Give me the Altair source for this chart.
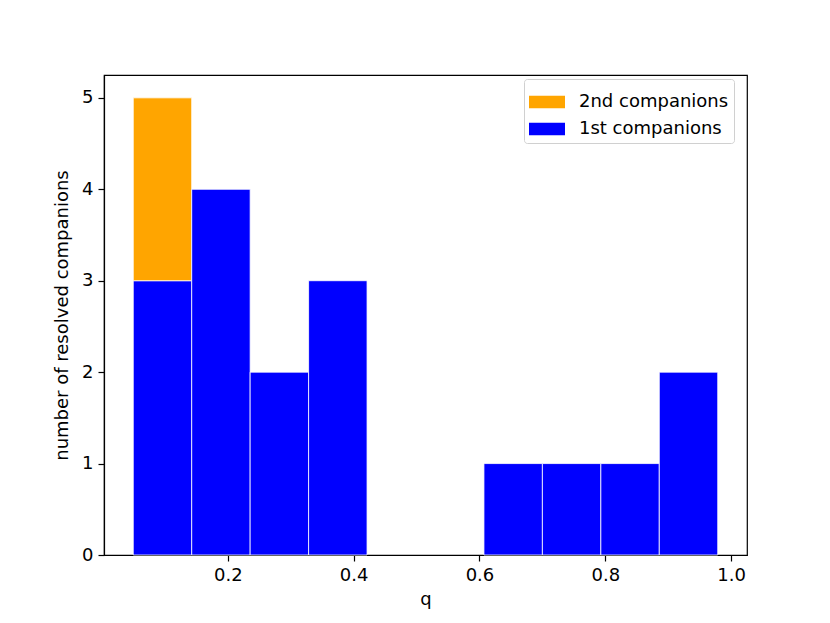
import altair as alt
import pandas as pd

# bin edges of the q histogram
bin_edges = [0.0497, 0.1426, 0.2355, 0.3284, 0.4213, 0.5142, 0.6071, 0.7000, 0.7929, 0.8858, 0.9787]
first_counts = [3, 4, 2, 3, 0, 0, 1, 1, 1, 2]
second_counts = [2, 0, 0, 0, 0, 0, 0, 0, 0, 0]
series_names = ["2nd companions", "1st companions"]
series_colors = ["#ffa500", "#0000ff"]
x_ticks = [0.2, 0.4, 0.6, 0.8, 1.0]
y_ticks = [0, 1, 2, 3, 4, 5]

rows = []
for i in range(len(first_counts)):
    for name, counts, order in [("1st companions", first_counts, 0), ("2nd companions", second_counts, 1)]:
        if counts[i] > 0:
            rows.append({"lo": bin_edges[i], "hi": bin_edges[i + 1], "count": counts[i],
                         "series": name, "ord": order})
df = pd.DataFrame(rows)

FONT = "DejaVu Sans"
FS = 18

chart = alt.Chart(df).transform_stack(
    stack="count", as_=["y0", "y1"], groupby=["lo"], sort=[alt.SortField("ord", order="ascending")]
).mark_rect(stroke="white", strokeWidth=0.8).encode(
    x=alt.X("lo:Q", scale=alt.Scale(domain=[0.0032, 1.0252], nice=False, zero=False),
            axis=alt.Axis(values=x_ticks, format=".1f", title="q", grid=False)),
    x2="hi:Q",
    y=alt.Y("y1:Q", scale=alt.Scale(domain=[0, 5.25], nice=False),
            axis=alt.Axis(values=y_ticks, format="d", title="number of resolved companions", grid=False)),
    y2="y0:Q",
    color=alt.Color("series:N", scale=alt.Scale(domain=series_names, range=series_colors),
                    legend=alt.Legend(title=None, orient="none", legendX=420, legendY=4,
                                      symbolType="M-1,-0.35H1V0.35H-1Z", symbolSize=1296,
                                      symbolStrokeWidth=0, labelFont=FONT, labelFontSize=FS,
                                      labelColor="black", labelOffset=14,
                                      strokeColor="#d0d0d0", fillColor="white", cornerRadius=3,
                                      padding=5, rowPadding=-1)),
).properties(
    width=643, height=480,
    autosize=alt.AutoSizeParams(type="none"),
    padding={"left": 96, "top": 67, "right": 70, "bottom": 60},
).configure_view(
    stroke="black", strokeWidth=1.2
).configure_axis(
    labelFont=FONT, labelFontSize=FS, labelColor="black",
    titleFont=FONT, titleFontSize=FS, titleColor="black", titleFontWeight="normal",
    domainColor="black", domainWidth=1.2, tickColor="black", tickWidth=1.2, tickSize=6,
    labelPadding=5,
).configure_axisY(
    titlePadding=10
).configure_axisX(
    titlePadding=6
)

chart.save("out.html", embed_options={"renderer": "svg", "actions": False})
